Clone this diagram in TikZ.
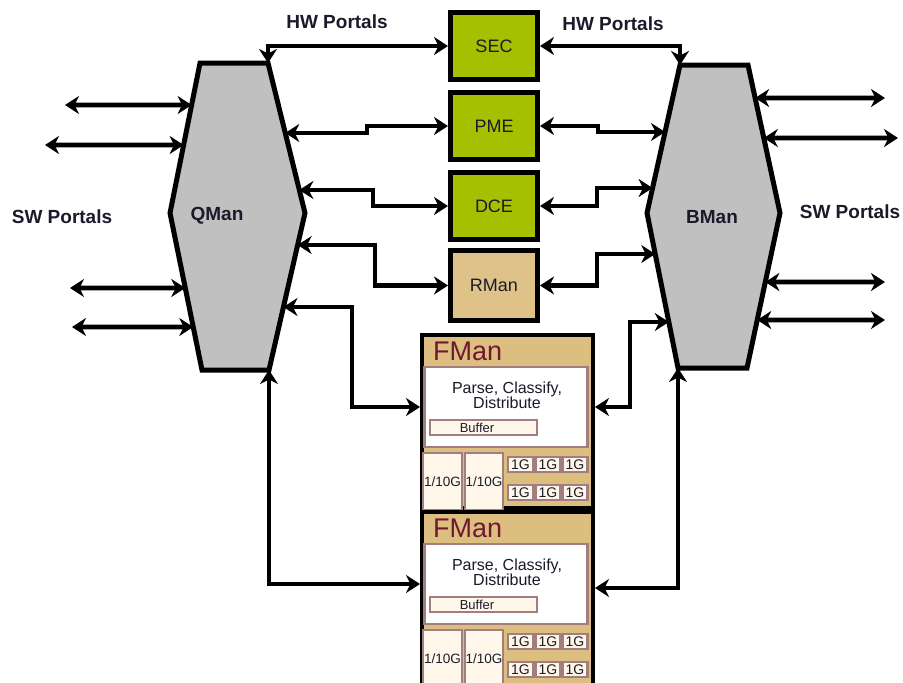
\documentclass[tikz,border=0pt]{standalone}
\usepackage{fontspec}
\setmainfont{Liberation Sans}
\usetikzlibrary{arrows.meta,calc}
\definecolor{secgreen}{HTML}{A4C000}
\definecolor{rmantan}{HTML}{DFC288}
\definecolor{fmtan}{HTML}{DCBF80}
\definecolor{mauve}{HTML}{A27E7E}
\definecolor{cream}{HTML}{FFF8EA}
\definecolor{hexgray}{HTML}{C0C0C0}
\definecolor{fmred}{HTML}{701830}
\definecolor{txt}{HTML}{1A1A2A}
\begin{document}
\begin{tikzpicture}[x=1pt,y=-1pt,
  conn/.style={line width=4.8pt,
    {Stealth[length=14pt,width=18pt,inset=4.5pt]}-{Stealth[length=14pt,width=18pt,inset=4.5pt]}},
  hexa/.style={draw=black, line width=5pt, fill=hexgray, line join=miter},
  hexlabel/.style={font=\fontsize{19}{19}\selectfont\bfseries, text=txt},
  portal/.style={font=\fontsize{19}{19}\selectfont\bfseries, text=txt},
  accel/.style={draw=black, line width=5pt, minimum width=87pt, minimum height=67pt,
    inner sep=0pt, font=\fontsize{18}{18}\selectfont, text=txt},
  fmouter/.style={draw=black, line width=4pt, fill=fmtan, minimum width=171pt,
    minimum height=173pt, inner sep=0pt},
  fmtitle/.style={font=\fontsize{27}{27}\selectfont, text=fmred, inner sep=0pt},
  fmwhite/.style={draw=mauve, line width=2.2pt, fill=white, minimum width=163pt,
    minimum height=80pt, inner sep=0pt},
  fmtext/.style={font=\fontsize{16}{15}\selectfont, text=txt, align=center, inner sep=0pt},
  fmcell/.style={draw=mauve, line width=2.2pt, fill=cream, inner sep=0pt},
  fmsmall/.style={text=txt, inner sep=0pt}
]
\useasboundingbox (0,0) rectangle (903,683);
\clip (0,0) rectangle (903,683);

% ---------- QMan hexagon ----------
\coordinate (qTL) at (200,63);
\coordinate (qTR) at (268,63);
\coordinate (qR)  at (305,213);
\coordinate (qBR) at (269,370);
\coordinate (qBL) at (202,370);
\coordinate (qL)  at (170,213);
\draw[hexa] (qTL)--(qTR)--(qR)--(qBR)--(qBL)--(qL)--cycle;
\node[hexlabel] (qlab) at (217,216) {QMan};

% ---------- BMan hexagon ----------
\coordinate (bTL) at (680,65);
\coordinate (bTR) at (748,65);
\coordinate (bR)  at (780,213);
\coordinate (bBR) at (747,368);
\coordinate (bBL) at (678,368);
\coordinate (bL)  at (647,213);
\draw[hexa] (bTL)--(bTR)--(bR)--(bBR)--(bBL)--(bL)--cycle;
\node[hexlabel] (blab) at (712,217) {BMan};

% ---------- accelerators ----------
\node[accel, fill=secgreen] (SEC) at (494,46) {SEC};
\node[accel, fill=secgreen] (PME) at (494,126) {PME};
\node[accel, fill=secgreen] (DCE) at (494,206) {DCE};
\node[accel, fill=rmantan, minimum height=70pt] (RMan) at (494,285.5) {RMan};

% ---------- labels ----------
\node[portal] (hwl) at (337,22) {HW Portals};
\node[portal] (hwr) at (613,24) {HW Portals};
\node[portal] (swl) at (62,217) {SW Portals};
\node[portal] (swr) at (850,212) {SW Portals};

% ---------- FMan blocks ----------
\foreach \n/\dy in {1/0,2/177}{
\begin{scope}[shift={(0,\dy)}]
  \node[fmouter] (fm\n) at (507.5,421.5) {};
  \node[fmtitle, anchor=base west] (fm\n-t) at (433,360) {FMan};
  \node[fmwhite] (fm\n-w) at (506,407) {};
  \node[fmtext] (fm\n-p) at (507,395) {Parse, Classify,\\Distribute};
  \node[fmcell, minimum width=107pt, minimum height=15pt] (fm\n-b) at (483.5,427.5) {};
  \node[fmsmall, font=\fontsize{13}{13}\selectfont] (fm\n-bt) at (477,427.5) {Buffer};
  \node[fmcell, minimum width=39pt, minimum height=57pt] (fm\n-x1) at (442.5,481.5) {};
  \node[fmsmall, font=\fontsize{13.5}{13}\selectfont] (fm\n-x1t) at (442.5,481.5) {1/10G};
  \node[fmcell, minimum width=38pt, minimum height=57pt] (fm\n-x2) at (484,481.5) {};
  \node[fmsmall, font=\fontsize{13.5}{13}\selectfont] (fm\n-x2t) at (484,481.5) {1/10G};
  \foreach \c/\cx in {1/520.5,2/548,3/575}{
    \foreach \r/\ry in {1/464.5,2/492.5}{
      \node[fmcell, minimum width=25pt, minimum height=15pt] (fm\n-g\r\c) at (\cx,\ry) {};
      \node[fmsmall, font=\fontsize{14}{14}\selectfont] (fm\n-g\r\c t) at (\cx,\ry) {1G};
    }
  }
\end{scope}
}
\coordinate (fm1L) at (fm1.west |- fm1-w.center);
\coordinate (fm1R) at (fm1.east |- fm1-w.center);
\coordinate (fm2L) at (fm2.west |- fm2-w.center);
\coordinate (fm2R) at ($(fm2.east |- fm2-w.center)+(0,4)$);

% ---------- edge points on QMan ----------
\coordinate (qPME) at (intersection of qTR--qR and 0,133--900,133);
\coordinate (qDCE) at (intersection of qTR--qR and 0,190--900,190);
\coordinate (qRM)  at (intersection of qR--qBR and 0,245--900,245);
\coordinate (qF1)  at (intersection of qR--qBR and 0,307--900,307);
\coordinate (ql1) at (intersection of qTL--qL and 0,105--900,105);
\coordinate (ql2) at (intersection of qTL--qL and 0,145--900,145);
\coordinate (ql3) at (intersection of qL--qBL and 0,288--900,288);
\coordinate (ql4) at (intersection of qL--qBL and 0,327--900,327);

% ---------- edge points on BMan ----------
\coordinate (bPME) at (intersection of bTL--bL and 0,132--900,132);
\coordinate (bDCE) at (intersection of bTL--bL and 0,188--900,188);
\coordinate (bRM)  at (intersection of bL--bBL and 0,254--900,254);
\coordinate (bF1)  at (intersection of bL--bBL and 0,322--900,322);
\coordinate (br1) at (intersection of bTR--bR and 0,98--900,98);
\coordinate (br2) at (intersection of bTR--bR and 0,138--900,138);
\coordinate (br3) at (intersection of bR--bBR and 0,282--900,282);
\coordinate (br4) at (intersection of bR--bBR and 0,320--900,320);

% ---------- SW portal free ends ----------
\coordinate (swl1) at (65,105);
\coordinate (swl2) at (45,145);
\coordinate (swl3) at (70,288);
\coordinate (swl4) at (72,327);
\coordinate (swr1) at (885,98);
\coordinate (swr2) at (898,138);
\coordinate (swr3) at (885,282);
\coordinate (swr4) at (885,320);

% ---------- connectors ----------
\draw[conn] (qTR) |- (SEC.west);
\draw[conn] (SEC.east) -| (bTL);
\draw[conn] (qPME) -| ($(PME.west)+(-81,0)$) |- (PME.west);
\draw[conn] (qDCE) -| ($(DCE.west)+(-75,0)$) |- (DCE.west);
\draw[conn] (qRM) -| ($(RMan.west)+(-73,0)$) |- (RMan.west);
\draw[conn] (qF1) -| ($(fm1L)+(-68,0)$) |- (fm1L);
\draw[conn] (qBR) |- (fm2L);
\draw[conn] (PME.east) -- ++(58,0) |- (bPME);
\draw[conn] (DCE.east) -- ++(57,0) |- (bDCE);
\draw[conn] (RMan.east) -- ++(57,0) |- (bRM);
\draw[conn] (fm1R) -- ++(35,0) |- (bF1);
\draw[conn] (fm2R) -| (bBL);
\foreach \i in {1,2,3,4}{
  \draw[conn] (swl\i) -- (ql\i);
  \draw[conn] (br\i) -- (swr\i);
}
\end{tikzpicture}
\end{document}
